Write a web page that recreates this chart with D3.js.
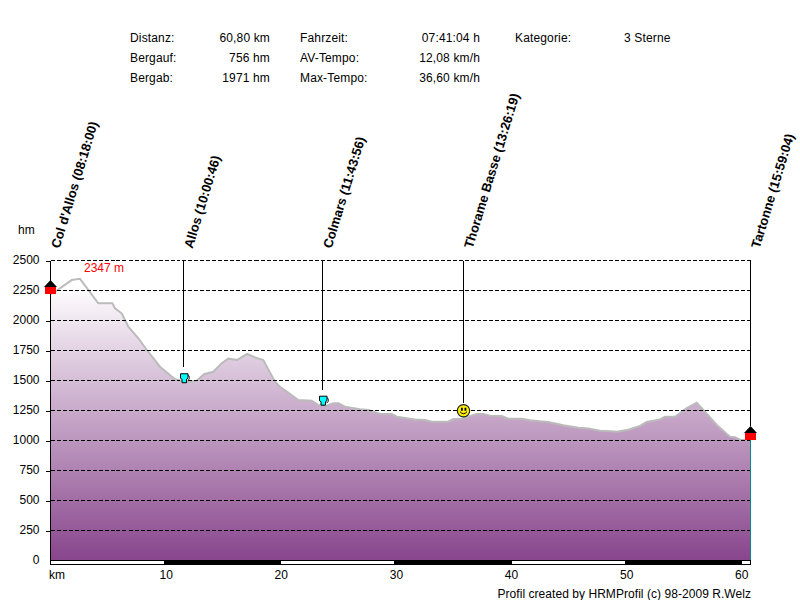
<!DOCTYPE html>
<html>
<head>
<meta charset="utf-8">
<script src="https://cdn.jsdelivr.net/npm/d3@7/dist/d3.min.js"></script>
<style>
  html, body { margin: 0; padding: 0; background: #fff; }
  svg { display: block; }
  text { font-family: "Liberation Sans", Arial, sans-serif; font-size: 12px; fill: #000; }
</style>
</head>
<body>
<div id="chart"></div>
<script>
var profileKm = [0, 0.54, 0.83, 1.84, 2.56, 3.29, 4.15, 5.37, 5.6, 6.18, 6.76, 7.63, 8.37, 9.51, 10.81, 11.83, 12.7, 13.33, 14.14, 14.87, 15.44, 16.22, 17.09, 17.76, 18.48, 19.5, 19.93, 20.52, 21.52, 22.69, 23.26, 23.99, 24.56, 25, 25.58, 26.88, 27.6, 28.62, 29.64, 30.07, 31.66, 32.53, 33.11, 34.55, 34.99, 35.72, 37.02, 37.59, 38.17, 39.19, 39.76, 40.93, 41.65, 42.52, 43.24, 44.54, 45.84, 46.71, 47.73, 48.6, 49.18, 50.19, 51.2, 51.78, 52.94, 53.37, 54.24, 55.26, 56.13, 56.7, 57.87, 59.02, 59.46, 59.89, 60.8];
var profileHm = [2220, 2250, 2269, 2337, 2347, 2254, 2143, 2143, 2102, 2060, 1948, 1852, 1754, 1615, 1510, 1485, 1498, 1552, 1573, 1643, 1682, 1671, 1721, 1693, 1671, 1490, 1448, 1407, 1337, 1332, 1296, 1290, 1310, 1310, 1282, 1260, 1254, 1221, 1221, 1198, 1176, 1171, 1157, 1157, 1179, 1182, 1221, 1221, 1207, 1204, 1182, 1182, 1168, 1160, 1155, 1127, 1107, 1101, 1082, 1077, 1073, 1090, 1121, 1154, 1176, 1198, 1198, 1271, 1315, 1254, 1129, 1032, 1027, 1007, 1004];

var yTicks = [0, 250, 500, 750, 1000, 1250, 1500, 1750, 2000, 2250, 2500];
var xTicks = [10, 20, 30, 40, 50, 60];
var barStops = [0, 9.87, 20.02, 29.85, 40.06, 49.9, 60.04, 60.8];

var markerNames = ["Col d'Allos (08:18:00)", "Allos (10:00:46)", "Colmars (11:43:56)", "Thorame Basse (13:26:19)", "Tartonne (15:59:04)"];
var markerKm = [0, 11.52, 23.63, 35.87, 60.8];
var markerHm = [2221, 1477, 1290, 1248, 1004];
var markerKinds = ["house", "cup", "cup", "smiley", "house"];

var statsLeft = [["Distanz:", "60,80 km"], ["Bergauf:", "756 hm"], ["Bergab:", "1971 hm"]];
var statsRight = [["Fahrzeit:", "07:41:04 h"], ["AV-Tempo:", "12,08 km/h"], ["Max-Tempo:", "36,60 km/h"]];

var w = 800, h = 600;
var margin = { top: 260.5, right: 49.5, bottom: 39.5, left: 50.5 };

var x = d3.scaleLinear().domain([0, 60.8]).range([margin.left, w - margin.right]);
var y = d3.scaleLinear().domain([0, 2500]).range([h - margin.bottom, margin.top]);

var svg = d3.select('#chart').append('svg').attr('width', w).attr('height', h);

var profile = profileKm.map(function (km, i) { return [km, profileHm[i]]; });

var grad = svg.append('defs').append('linearGradient')
  .attr('id', 'fade').attr('gradientUnits', 'userSpaceOnUse')
  .attr('x1', 0).attr('x2', 0)
  .attr('y1', y(2300)).attr('y2', y(0));
grad.append('stop').attr('offset', 0).attr('stop-color', '#ffffff');
grad.append('stop').attr('offset', 1).attr('stop-color', '#88458c');

// profile fill first, grid goes over it
svg.append('path').datum(profile)
  .attr('fill', 'url(#fade)')
  .attr('d', d3.area().x(function (d) { return x(d[0]); }).y0(y(0)).y1(function (d) { return y(d[1]); }));

svg.append('path').datum(profile)
  .attr('fill', 'none')
  .attr('stroke', '#bbbbbb')
  .attr('stroke-width', 2)
  .attr('d', d3.line().x(function (d) { return x(d[0]); }).y(function (d) { return y(d[1]); }));

// y axis with short ticks, dashed grid on top
var yAxis = svg.append('g')
  .attr('transform', 'translate(' + margin.left + ',-0.5)')
  .call(d3.axisLeft(y).tickValues(yTicks).tickSize(5).tickPadding(6).tickFormat(d3.format('d')));
yAxis.select('.domain').remove();
yAxis.selectAll('text').attr('font-size', 12).attr('font-family', null);
yAxis.selectAll('.tick line')
  .attr('transform', 'translate(0,0.5)')
  .attr('shape-rendering', 'crispEdges')
  .attr('stroke', function (d) { return d === 0 ? 'none' : '#000'; });

svg.append('g').selectAll('line').data(yTicks.slice(1)).join('line')
  .attr('x1', margin.left).attr('x2', w - margin.right)
  .attr('y1', function (d) { return y(d); }).attr('y2', function (d) { return y(d); })
  .attr('stroke', '#000')
  .attr('stroke-dasharray', '4,2')
  .attr('shape-rendering', 'crispEdges');

svg.append('line')
  .attr('x1', margin.left).attr('x2', margin.left)
  .attr('y1', y(2500)).attr('y2', y(0))
  .attr('stroke', '#000').attr('shape-rendering', 'crispEdges');

svg.append('line')
  .attr('x1', x(60.8)).attr('x2', x(60.8))
  .attr('y1', y(1004)).attr('y2', y(0))
  .attr('stroke', '#008c8c').attr('shape-rendering', 'crispEdges');

// km bar under the plot
var bar = svg.append('g');
bar.selectAll('rect').data(d3.pairs(barStops)).join('rect')
  .attr('x', function (d) { return x(d[0]); })
  .attr('y', y(0))
  .attr('width', function (d) { return x(d[1]) - x(d[0]); })
  .attr('height', 4)
  .attr('fill', function (d, i) { return i % 2 ? '#000' : '#fff'; })
  .attr('stroke', '#000')
  .attr('shape-rendering', 'crispEdges');

// x axis
var xAxis = svg.append('g')
  .attr('transform', 'translate(0,' + (y(0) + 4) + ')')
  .call(d3.axisBottom(x).tickValues(xTicks).tickSize(0).tickPadding(6).tickFormat(d3.format('d')));
xAxis.select('.domain').remove();
xAxis.selectAll('text').attr('font-size', 12).attr('font-family', null);

svg.append('text').attr('x', 49).attr('y', 579).text('km');
svg.append('text').attr('x', 18).attr('y', 234).text('hm');
svg.append('text').attr('x', 84).attr('y', 272).style('fill', '#ff0000').text('2347 m');
svg.append('text').attr('x', 751).attr('y', 598).attr('text-anchor', 'end')
  .style('letter-spacing', '0.05px').text('Profil created by HRMProfil (c) 98-2009 R.Welz');

// stats block
function statRows(rows, labelX, valueX) {
  rows.forEach(function (r, i) {
    var rowY = 42 + i * 20;
    svg.append('text').attr('x', labelX).attr('y', rowY).style('letter-spacing', '0.15px').text(r[0]);
    svg.append('text').attr('x', valueX).attr('y', rowY).attr('text-anchor', 'end').style('letter-spacing', '0.15px').text(r[1]);
  });
}
statRows(statsLeft, 130, 270);
statRows(statsRight, 300, 480);
svg.append('text').attr('x', 515).attr('y', 42).style('letter-spacing', '0.15px').text('Kategorie:');
svg.append('text').attr('x', 624).attr('y', 42).style('letter-spacing', '0.15px').text('3 Sterne');

// waypoints
var pins = svg.append('g').selectAll('g').data(markerNames).join('g')
  .attr('transform', function (d, i) { return 'translate(' + (Math.round(x(markerKm[i]) - 0.5) + 0.5) + ',0)'; });

pins.each(function (d, i) {
  var el = d3.select(this);
  var kind = markerKinds[i];
  var my = y(markerHm[i]);
  var pinEnd = kind === 'house' ? my - 14 : (kind === 'cup' ? my - 16 : my - 8);

  if (i > 0) {
    el.append('line').attr('y1', y(2500)).attr('y2', pinEnd)
      .attr('stroke', '#000').attr('shape-rendering', 'crispEdges');
  }

  var icon = el.append('g').attr('transform', 'translate(0,' + my + ')');
  if (kind === 'house') {
    icon.append('rect').attr('x', -5.5).attr('y', -7.5).attr('width', 11).attr('height', 7.5).attr('fill', '#ff0000');
    icon.append('path').attr('d', 'M-6.5 -7 L0 -14 L6.5 -7 Z').attr('fill', '#000');
  } else if (kind === 'cup') {
    icon.append('path').attr('d', 'M4 -8 a2 2.5 0 0 1 0 5').attr('fill', 'none').attr('stroke', '#333');
    icon.append('path').attr('d', 'M-3 -9.5 H4.5 V-5 L3 -4 V-0.5 H-1.5 V-4 L-3 -5 Z')
      .attr('fill', '#00ffff').attr('stroke', '#000');
  } else {
    icon.append('circle').attr('r', 6.2).attr('fill', '#ffee00').attr('stroke', '#222').attr('stroke-width', 1.2);
    icon.append('rect').attr('x', -2.5).attr('y', -3).attr('width', 1.8).attr('height', 3).attr('fill', '#000');
    icon.append('rect').attr('x', 1).attr('y', -3).attr('width', 1.8).attr('height', 3).attr('fill', '#000');
    icon.append('path').attr('d', 'M-3.5 1 Q0 5 3.5 1').attr('fill', 'none').attr('stroke', '#000');
  }

  el.append('text')
    .attr('transform', 'translate(9,249) rotate(-73)')
    .attr('font-weight', 'bold')
    .style('font-size', '13px')
    .text(d);
});
</script>
</body>
</html>
